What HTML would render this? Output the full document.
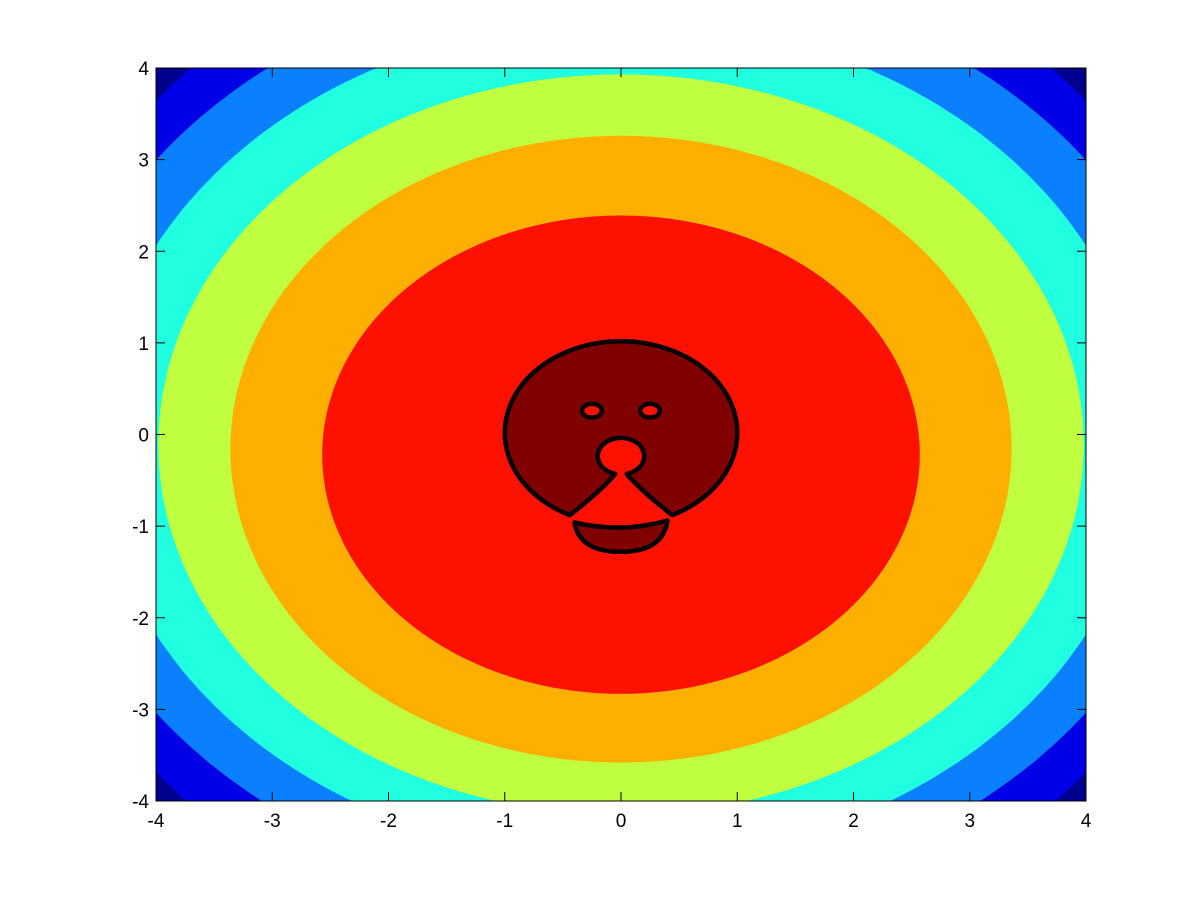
<!DOCTYPE html>
<html><head><meta charset="utf-8"><style>
html,body{margin:0;padding:0;background:#fff;width:1200px;height:900px;overflow:hidden;}
svg{display:block;font-family:"Liberation Sans",sans-serif;}
</style></head><body>
<svg id="chart" width="1200" height="900" viewBox="0 0 1200 900">
<g id="rings"></g>
<g id="face"></g>
<rect x="156" y="68" width="930" height="733" fill="none" stroke="#000" stroke-width="1"/>
<g id="axes"></g>
</svg>
<script>
const levelNames = ["navy","blue","lightblue","cyan","green","orange","red"];
const levelColors = ["#00008F","#0000E6","#0A80FF","#20FFDF","#BFFF40","#FFAF00","#FF1100"];
// ellipse outer boundaries in data units: center y, x-radius, y-radius (navy = background)
const levelCy = [0, -0.02, -0.02, -0.06, -0.11, -0.16, -0.22];
const levelRx = [9, 5.22, 4.97, 4.51, 3.98, 3.36, 2.57];
const levelRy = [9, 5.70, 5.08, 4.59, 4.04, 3.42, 2.61];
const xTicks = [-4,-3,-2,-1,0,1,2,3,4];
const yTicks = [-4,-3,-2,-1,0,1,2,3,4];

const NS="http://www.w3.org/2000/svg";
const X0=156,X1=1086,Y0=801,Y1=68;
const sx=v=>X0+(v+4)/8*(X1-X0);
const sy=v=>Y0-(v+4)/8*(Y0-Y1);
const kx=(X1-X0)/8, ky=(Y0-Y1)/8;
const clamp=(v,a,b)=>Math.max(a,Math.min(b,v));

const rings=document.getElementById('rings');
levelNames.forEach((n,i)=>{
  const cx=sx(0), cy=sy(levelCy[i]), rx=levelRx[i]*kx, ry=levelRy[i]*ky;
  const pts=[];
  const N=720;
  for(let k=0;k<N;k++){
    const t=k/N*2*Math.PI;
    const px=clamp(cx+rx*Math.cos(t),X0,X1);
    const py=clamp(cy+ry*Math.sin(t),Y1,Y0);
    pts.push(px.toFixed(1)+','+py.toFixed(1));
  }
  const e=document.createElementNS(NS,'polygon');
  e.setAttribute('points',pts.join(' '));
  e.setAttribute('fill',levelColors[i]);
  
  
  rings.appendChild(e);
});

const face=document.getElementById('face');
function P(x,y){return sx(x).toFixed(1)+','+sy(y).toFixed(1);}
const fr=[kx*1.0,ky*1.0];
const headD='M'+P(-0.44,-0.88)+' A'+fr[0]+','+fr[1]+' 0 1 1 '+P(0.44,-0.88)+
 ' Q'+P(0.16,-0.6)+' '+P(0.05,-0.43)+
 ' A'+(0.2*kx)+','+(0.2*ky)+' 0 1 0 '+P(-0.05,-0.43)+
 ' Q'+P(-0.16,-0.6)+' '+P(-0.44,-0.88)+' Z';
const head=document.createElementNS(NS,'path');
head.setAttribute('d',headD);
head.setAttribute('fill','#800000');head.setAttribute('stroke','#000');head.setAttribute('stroke-width','4.5');head.setAttribute('stroke-linejoin','round');


face.appendChild(head);
[-0.25,0.25].forEach((ex,i)=>{
  const e=document.createElementNS(NS,'ellipse');
  e.setAttribute('cx',sx(ex));e.setAttribute('cy',sy(0.26));
  e.setAttribute('rx',0.085*kx);e.setAttribute('ry',0.075*ky);
  e.setAttribute('fill','#FF1100');e.setAttribute('stroke','#000');e.setAttribute('stroke-width','4.5');
  
  
  face.appendChild(e);
});
const mouth=document.createElementNS(NS,'path');
mouth.setAttribute('d','M'+P(-0.4,-0.96)+' Q'+P(0,-1.08)+' '+P(0.4,-0.94)+' Q'+P(0.36,-1.28)+' '+P(0,-1.28)+' Q'+P(-0.36,-1.28)+' '+P(-0.4,-0.96)+' Z');
mouth.setAttribute('fill','#800000');mouth.setAttribute('stroke','#000');mouth.setAttribute('stroke-width','4.5');mouth.setAttribute('stroke-linejoin','round');


face.appendChild(mouth);

const axes=document.getElementById('axes');
function line(x1,y1,x2,y2,name){const l=document.createElementNS(NS,'line');l.setAttribute('x1',x1);l.setAttribute('y1',y1);l.setAttribute('x2',x2);l.setAttribute('y2',y2);l.setAttribute('stroke','#000');l.setAttribute('stroke-width','1');


axes.appendChild(l);}
xTicks.forEach(v=>{
  const x=sx(v);
  line(x,Y0,x,Y0-9,'x-tick');line(x,Y1,x,Y1+9,'x-tick-top');
  const t=document.createElementNS(NS,'text');
  t.setAttribute('x',x);t.setAttribute('y',827);t.setAttribute('text-anchor','middle');t.setAttribute('font-size','19');
  t.textContent=v;
  
  
  axes.appendChild(t);
});
yTicks.forEach(v=>{
  const y=sy(v);
  line(X0,y,X0+9,y,'y-tick');line(X1,y,X1-9,y,'y-tick-right');
  const t=document.createElementNS(NS,'text');
  t.setAttribute('x',149);t.setAttribute('y',y+7);t.setAttribute('text-anchor','end');t.setAttribute('font-size','19');
  t.textContent=v;
  
  
  axes.appendChild(t);
});
</script>
</body></html>
